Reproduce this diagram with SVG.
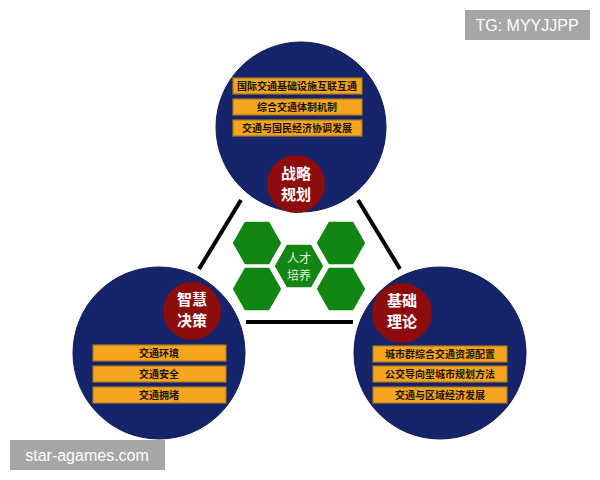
<svg xmlns="http://www.w3.org/2000/svg" width="600" height="480" viewBox="0 0 600 480">
<style>
.big{fill:#15246a;stroke:#0d1a4e;stroke-width:1}
.red{fill:#8c0b0b}
.box{fill:#f6a51e;stroke:#a77a1c;stroke-width:1.2}
.bt{font-family:"Noto Sans CJK SC","Noto Sans",sans-serif;font-size:10px;font-weight:bold;fill:#1a1208;text-anchor:middle}
.rt{font-family:"Noto Sans CJK SC","Noto Sans",sans-serif;font-size:15px;font-weight:bold;fill:#ffffff;text-anchor:middle}
.hex{fill:#128612;stroke:#ffffff;stroke-width:1.5}
.ht{font-family:"Noto Sans CJK SC","Noto Sans",sans-serif;font-size:12px;fill:#e8f5e0;text-anchor:middle}
.wm{fill:#a6a6a6}
.wt{font-family:"Liberation Sans",Arial,sans-serif;font-size:16px;fill:#ffffff}
.ln{stroke:#000000;stroke-width:4;fill:none}
</style>
<rect width="600" height="480" fill="#ffffff"/>
<g id="connectors">
<line class="ln" x1="241" y1="200" x2="199" y2="269"/>
<line class="ln" x1="358" y1="200" x2="400" y2="269"/>
<line class="ln" x1="246" y1="322" x2="353" y2="322"/>
</g>
<g id="strategy">
<circle class="big" cx="301" cy="127" r="85"/>
<rect class="box" x="233" y="78" width="129" height="16"/>
<text class="bt" x="297" y="90">国际交通基础设施互联互通</text>
<rect class="box" x="233" y="99" width="129" height="16"/>
<text class="bt" x="297" y="111">综合交通体制机制</text>
<rect class="box" x="233" y="120" width="129" height="16"/>
<text class="bt" x="297" y="132">交通与国民经济协调发展</text>
<circle class="red" cx="296" cy="184" r="29"/>
<text class="rt" x="296" y="179">战略</text>
<text class="rt" x="296" y="200">规划</text>
</g>
<g id="decision">
<circle class="big" cx="159" cy="353" r="86"/>
<rect class="box" x="93" y="345" width="133" height="16"/>
<text class="bt" x="159" y="357">交通环境</text>
<rect class="box" x="93" y="366" width="133" height="16"/>
<text class="bt" x="159" y="378">交通安全</text>
<rect class="box" x="93" y="387" width="133" height="16"/>
<text class="bt" x="159" y="399">交通拥堵</text>
<circle class="red" cx="192" cy="311" r="29"/>
<text class="rt" x="192" y="305">智慧</text>
<text class="rt" x="192" y="326">决策</text>
</g>
<g id="theory">
<circle class="big" cx="440" cy="353" r="86"/>
<rect class="box" x="373" y="346" width="134" height="16"/>
<text class="bt" x="440" y="358">城市群综合交通资源配置</text>
<rect class="box" x="373" y="366" width="134" height="16"/>
<text class="bt" x="440" y="378">公交导向型城市规划方法</text>
<rect class="box" x="373" y="387" width="134" height="16"/>
<text class="bt" x="440" y="399">交通与区域经济发展</text>
<circle class="red" cx="402" cy="313" r="30"/>
<text class="rt" x="402" y="306">基础</text>
<text class="rt" x="402" y="327">理论</text>
</g>
<g id="talent">
<polygon class="hex" points="232,243 244.5,221 269.5,221 282,243 269.5,265 244.5,265"/>
<polygon class="hex" points="232,289 244.5,267 269.5,267 282,289 269.5,311 244.5,311"/>
<polygon class="hex" points="316,243 328.5,221 353.5,221 366,243 353.5,265 328.5,265"/>
<polygon class="hex" points="316,289 328.5,267 353.5,267 366,289 353.5,311 328.5,311"/>
<polygon class="hex" points="274,266 286.5,244 311.5,244 324,266 311.5,288 286.5,288"/>
<text class="ht" x="299" y="263">人才</text>
<text class="ht" x="299" y="280">培养</text>
</g>
<g id="wm1">
<rect class="wm" x="465" y="10" width="125" height="30"/>
<text class="wt" x="527" y="31" text-anchor="middle">TG: MYYJJPP</text>
</g>
<g id="wm2">
<rect class="wm" x="10" y="440" width="155" height="30"/>
<text class="wt" x="87" y="461" text-anchor="middle">star-agames.com</text>
</g>
</svg>
